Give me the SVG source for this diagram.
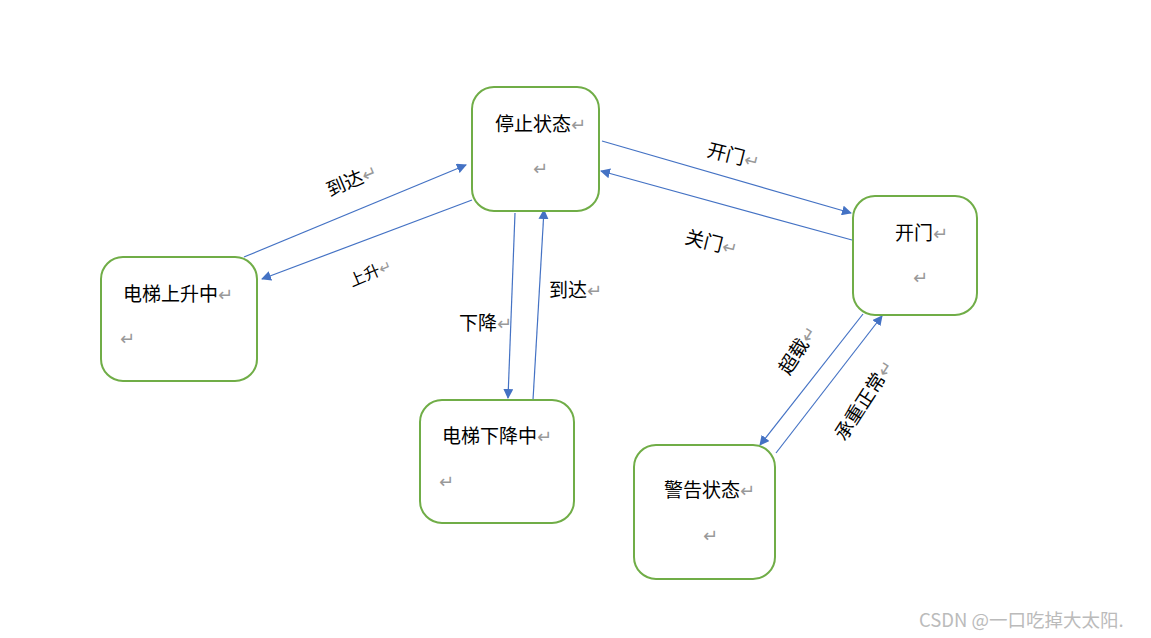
<svg xmlns="http://www.w3.org/2000/svg" width="1151" height="638" viewBox="0 0 1151 638">
<defs>
<marker id="ah" viewBox="0 0 10 10" refX="9" refY="5" markerWidth="10" markerHeight="10" markerUnits="userSpaceOnUse" orient="auto">
<path d="M0,0 L10,5 L0,10 z" fill="#4472C4"/>
</marker>
<style>
.box{fill:#fff;stroke:#70AD47;stroke-width:2}
.t{font-family:"Noto Sans CJK SC","Microsoft YaHei",sans-serif;font-size:19px;fill:#000}
.r{fill:#999;font-family:"DejaVu Sans",sans-serif}
.c{stroke:#4472C4;stroke-width:1.2;fill:none;marker-end:url(#ah)}
.l{font-family:"Noto Sans CJK SC",sans-serif;font-size:19px;fill:#000}
</style>
</defs>
<rect width="1151" height="638" fill="#fff"/>
<g id="connectors">
<line class="c" x1="244" y1="257" x2="466" y2="165"/>
<line class="c" x1="472" y1="200" x2="262" y2="279"/>
<line class="c" x1="602" y1="141" x2="851" y2="213"/>
<line class="c" x1="852" y1="240" x2="601" y2="171"/>
<line class="c" x1="515" y1="213" x2="508" y2="398"/>
<line class="c" x1="533" y1="400" x2="544" y2="210"/>
<line class="c" x1="863" y1="314" x2="760" y2="445"/>
<line class="c" x1="776" y1="453" x2="882" y2="316"/>
<text class="l" transform="translate(330,197) rotate(-23)">到达<tspan class="r" font-size="18">↵</tspan></text>
<text class="l" transform="translate(352,287) rotate(-23)" style="font-size:16px">上升<tspan class="r" font-size="15">↵</tspan></text>
<text class="l" transform="translate(706,156) rotate(14)">开门<tspan class="r" font-size="18">↵</tspan></text>
<text class="l" transform="translate(684,243) rotate(14)">关门<tspan class="r" font-size="18">↵</tspan></text>
<text class="l" x="459" y="330">下降<tspan class="r" font-size="18">↵</tspan></text>
<text class="l" x="549" y="297">到达<tspan class="r" font-size="18">↵</tspan></text>
<text class="l" transform="translate(789,376) rotate(-57)">超载<tspan class="r" font-size="18">↵</tspan></text>
<text class="l" transform="translate(845,442) rotate(-57)">承重正常<tspan class="r" font-size="18">↵</tspan></text>
</g>
<g id="stop">
<rect class="box" x="472" y="87" width="127" height="124" rx="22"/>
<text class="t" x="495" y="131">停止状态<tspan class="r" font-size="18">↵</tspan></text>
<text class="r" x="533" y="175" font-size="18">↵</text>
</g>
<g id="up">
<rect class="box" x="101" y="257" width="156" height="124" rx="22"/>
<text class="t" x="123" y="301">电梯上升中<tspan class="r" font-size="18">↵</tspan></text>
<text class="r" x="120" y="345" font-size="18">↵</text>
</g>
<g id="down">
<rect class="box" x="420" y="400" width="154" height="123" rx="22"/>
<text class="t" x="442" y="443">电梯下降中<tspan class="r" font-size="18">↵</tspan></text>
<text class="r" x="439" y="488" font-size="18">↵</text>
</g>
<g id="open">
<rect class="box" x="853" y="196" width="124" height="119" rx="22"/>
<text class="t" x="895" y="240">开门<tspan class="r" font-size="18">↵</tspan></text>
<text class="r" x="913" y="284" font-size="18">↵</text>
</g>
<g id="warn">
<rect class="box" x="634" y="445" width="141" height="134" rx="22"/>
<text class="t" x="664" y="497">警告状态<tspan class="r" font-size="18">↵</tspan></text>
<text class="r" x="703" y="542" font-size="18">↵</text>
</g>
<text x="919" y="627" font-family="Noto Sans CJK SC, sans-serif" font-size="18.5" fill="#bbb">CSDN @一口吃掉大太阳.</text>
</svg>
